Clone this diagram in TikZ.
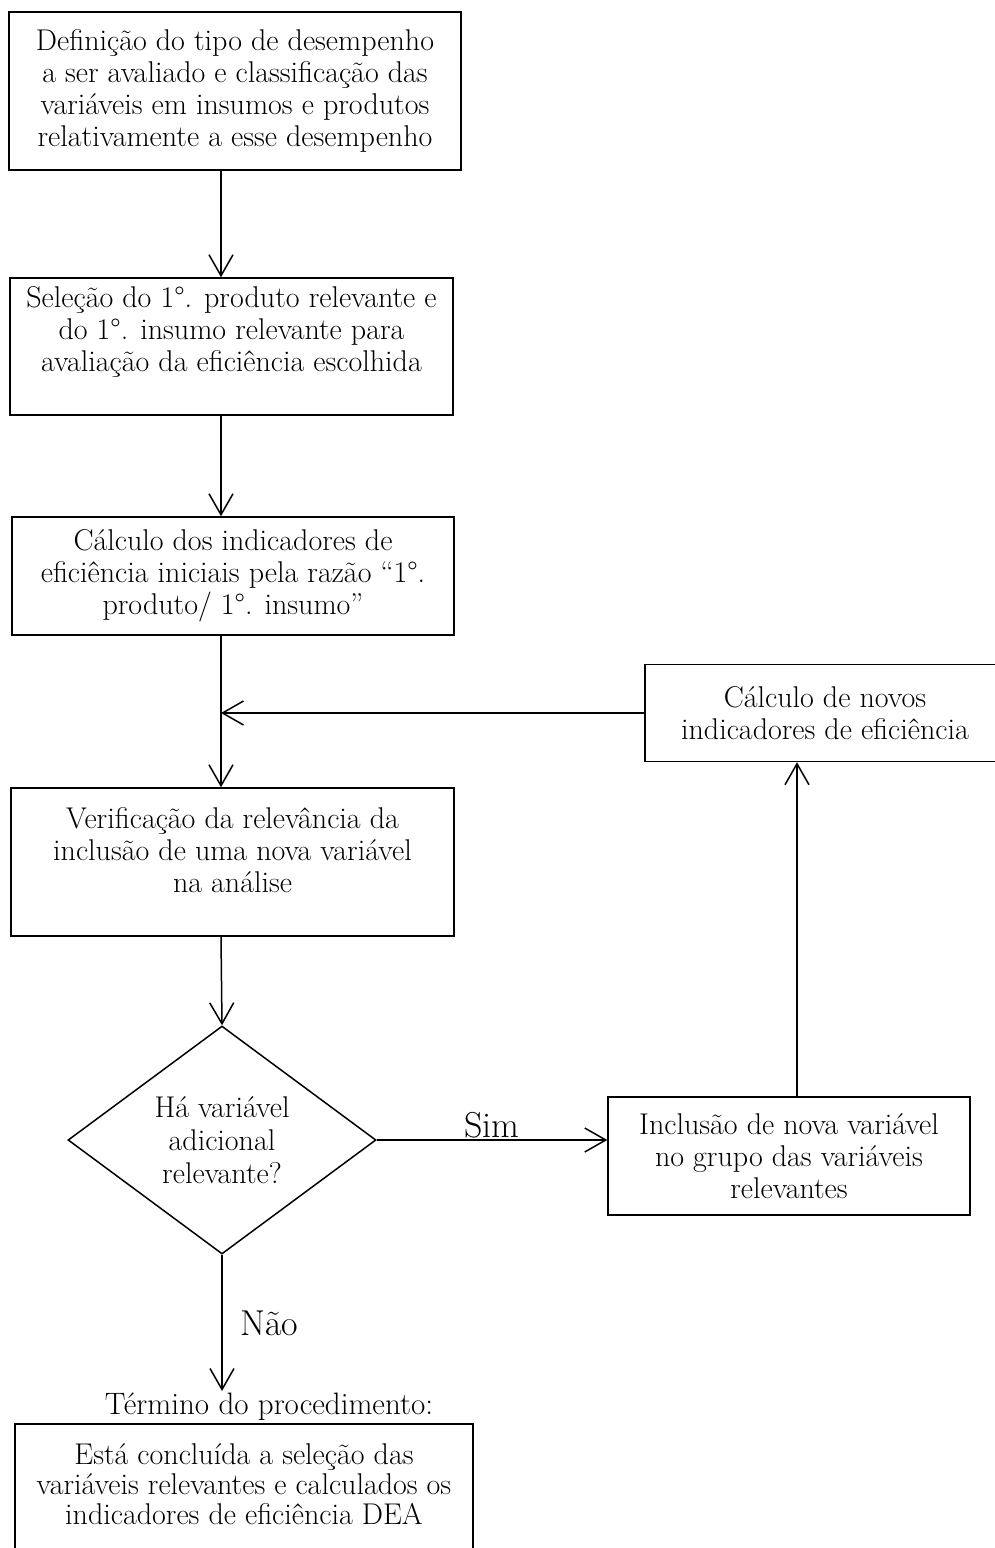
\documentclass[tikz,border=0pt]{standalone}
\usepackage{tikz}
\usetikzlibrary{shapes.geometric, arrows.meta, positioning}

\tikzset{
  caixa/.style={draw, line width=1.5pt, align=center, inner sep=4pt, font=\fontsize{30}{32}\selectfont},
  decisao/.style={draw, diamond, aspect=1.35, line width=1.5pt, align=center, inner sep=0pt, font=\fontsize{30}{33}\selectfont},
  seta/.style={line width=1.5pt, -{Straight Barb[length=21pt, width=24pt]}},
  rotulo/.style={font=\fontsize{36}{38}\selectfont}
}

\begin{document}
\begin{tikzpicture}[x=1pt, y=-1pt]
\fill[white] (0,0) rectangle (995,1548);
\useasboundingbox (0,0) rectangle (995,1548);
\clip (0,0) rectangle (995,1548);
\coordinate (spine) at (221,0);
\coordinate (riser) at (797,0);

% Definicao
\node[caixa, minimum width=452pt, minimum height=158pt] (defin) at (235,91) {Definição do tipo de desempenho\\a ser avaliado e classificação das\\variáveis em insumos e produtos\\relativamente a esse desempenho};

% Selecao
\node[caixa, minimum width=443pt, minimum height=137pt, text depth=34pt] (selec) at (231.5,346.5) {Seleção do 1°. produto relevante e\\do 1°. insumo relevante para\\avaliação da eficiência escolhida};

% Calculo inicial
\node[caixa, minimum width=442pt, minimum height=118pt] (calcini) at (233,576) {Cálculo dos indicadores de\\eficiência iniciais pela razão “1°.\\produto/ 1°. insumo”};

% Verificacao
\node[caixa, minimum width=443pt, minimum height=148pt, text depth=24pt] (verif) at (232.5,862) {Verificação da relevância da\\inclusão de uma nova variável\\na análise};

% Novos indicadores
\node[caixa, minimum width=360pt, minimum height=97pt] (novos) at (825,713) {Cálculo de novos\\indicadores de eficiência};

% Decisao
\node[decisao, minimum width=308pt, minimum height=228pt] (dec) at (222,1140) {Há variável\\adicional\\relevante?};

% Inclusao
\node[caixa, minimum width=362pt, minimum height=118pt] (inclu) at (789,1156) {Inclusão de nova variável\\no grupo das variáveis\\relevantes};

% Termino
\node[font=\fontsize{31}{34}\selectfont, inner sep=2pt] (termo) at (269,1407) {Término do procedimento:};
\node[caixa, anchor=north, minimum width=458pt, minimum height=142pt, text depth=22pt, font=\fontsize{30}{30}\selectfont] (concl) at (244,1423) {Está concluída a seleção das\\variáveis relevantes e calculados os\\indicadores de eficiência DEA};

% Ligacoes
\draw[seta] (defin.south -| spine) -- (selec.north -| spine);
\draw[seta] (selec.south -| spine) -- (calcini.north -| spine);
\draw[seta] (calcini.south -| spine) -- (verif.north -| spine);
\draw[seta] (novos.west) -- (novos.west -| spine);
\draw[seta] (verif.south -| spine) -- (dec.north);
\draw[seta] (dec.east) -- (inclu.west |- dec.east) node[rotulo, midway, above=-2pt] (sim) {Sim};
\draw[seta] (inclu.north -| riser) -- (novos.south -| riser);
\draw[seta] (dec.south) -- (dec.south |- termo.north) node[rotulo, midway, right=14pt] (nao) {Não};
\end{tikzpicture}
\end{document}
